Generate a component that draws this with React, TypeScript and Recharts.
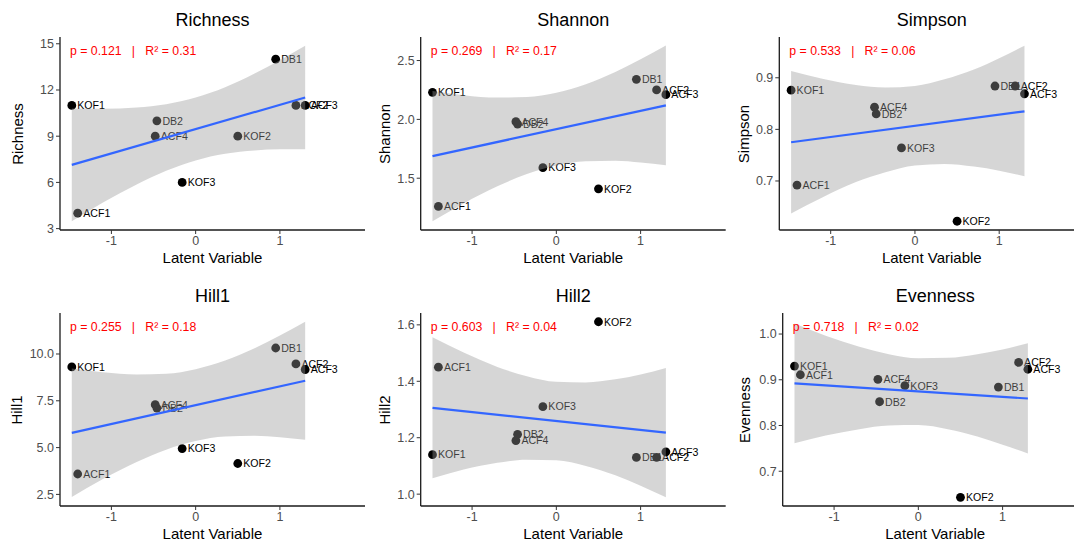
import React from "react";
import { ComposedChart, Scatter, Area, Line, XAxis, YAxis } from "recharts";

const FONT = '"Liberation Sans", Arial, Helvetica, sans-serif';

// samples and their latent variable score (x)
const samples = ["KOF1", "ACF1", "DB2", "ACF4", "KOF3", "KOF2", "DB1", "ACF2", "ACF3"];
const latent = [-1.47, -1.4, -0.46, -0.48, -0.16, 0.5, 0.95, 1.19, 1.3];
const xTicks = [-1, 0, 1];

const bandX = [-1.47, -1.1, -0.7, -0.35, 0, 0.35, 0.7, 1.0, 1.3];

const richness = [11, 4, 10, 9, 6, 9, 14, 11, 11];
const richnessLo = [3.48, 4.7, 5.87, 6.76, 7.43, 7.86, 8.07, 8.15, 8.15];
const richnessHi = [10.8, 10.78, 10.87, 11.08, 11.51, 12.18, 13.07, 13.93, 14.87];
const richnessFit = [7.14, 11.51];
const richnessTicks = [3, 6, 9, 12, 15];

const shannon = [2.23, 1.26, 1.96, 1.98, 1.59, 1.41, 2.34, 2.25, 2.21];
const shannonLo = [1.135, 1.286, 1.431, 1.536, 1.608, 1.644, 1.649, 1.634, 1.611];
const shannonHi = [2.241, 2.206, 2.185, 2.19, 2.226, 2.298, 2.403, 2.51, 2.627];
const shannonFit = [1.688, 2.119];
const shannonTicks = [1.5, 2.0, 2.5];

const simpson = [0.876, 0.692, 0.83, 0.843, 0.764, 0.622, 0.884, 0.884, 0.869];
const simpsonLo = [0.637, 0.668, 0.698, 0.717, 0.73, 0.733, 0.728, 0.72, 0.709];
const simpsonHi = [0.913, 0.898, 0.886, 0.881, 0.884, 0.897, 0.916, 0.938, 0.962];
const simpsonFit = [0.775, 0.835];
const simpsonTicks = [0.7, 0.8, 0.9];

const hill1 = [9.31, 3.59, 7.11, 7.29, 4.95, 4.15, 10.32, 9.47, 9.17];
const hill1Lo = [2.36, 3.32, 4.23, 4.89, 5.35, 5.59, 5.63, 5.55, 5.42];
const hill1Hi = [9.22, 9.02, 8.91, 8.95, 9.19, 9.65, 10.31, 10.99, 11.72];
const hill1Fit = [5.79, 8.57];
const hill1Ticks = [2.5, 5.0, 7.5, 10.0];

const hill2 = [1.14, 1.45, 1.212, 1.19, 1.31, 1.611, 1.13, 1.13, 1.15];
const hill2Lo = [1.056, 1.087, 1.111, 1.122, 1.12, 1.1, 1.067, 1.03, 0.989];
const hill2Hi = [1.556, 1.502, 1.451, 1.418, 1.398, 1.396, 1.407, 1.424, 1.447];
const hill2Fit = [1.306, 1.218];
const hill2Ticks = [1.0, 1.2, 1.4, 1.6];

const evenness = [0.93, 0.911, 0.852, 0.901, 0.887, 0.643, 0.884, 0.938, 0.923];
const evennessLo = [0.761, 0.778, 0.792, 0.8, 0.801, 0.792, 0.776, 0.758, 0.739];
const evennessHi = [1.023, 0.996, 0.972, 0.956, 0.947, 0.948, 0.956, 0.966, 0.98];
const evennessFit = [0.892, 0.859];
const evennessTicks = [0.7, 0.8, 0.9, 1.0];

const panels = [
  { title: "Richness", values: richness, lo: richnessLo, hi: richnessHi, fit: richnessFit, ticks: richnessTicks, domain: [2.91, 15.44], dec: 0, stat: "p = 0.121   |   R² = 0.31", col: 0, row: 0, plotLeft: 60, yLabelX: 17.5 },
  { title: "Shannon", values: shannon, lo: shannonLo, hi: shannonHi, fit: shannonFit, ticks: shannonTicks, domain: [1.06, 2.7], dec: 1, stat: "p = 0.269   |   R² = 0.17", col: 1, row: 0, plotLeft: 62.7, yLabelX: 26.7 },
  { title: "Simpson", values: simpson, lo: simpsonLo, hi: simpsonHi, fit: simpsonFit, ticks: simpsonTicks, domain: [0.605, 0.979], dec: 1, stat: "p = 0.533   |   R² = 0.06", col: 2, row: 0, plotLeft: 63.3, yLabelX: 28.3 },
  { title: "Hill1", values: hill1, lo: hill1Lo, hi: hill1Hi, fit: hill1Fit, ticks: hill1Ticks, domain: [1.88, 12.19], dec: 1, stat: "p = 0.255   |   R² = 0.18", col: 0, row: 1, plotLeft: 60, yLabelX: 16.7 },
  { title: "Hill2", values: hill2, lo: hill2Lo, hi: hill2Hi, fit: hill2Fit, ticks: hill2Ticks, domain: [0.958, 1.642], dec: 1, stat: "p = 0.603   |   R² = 0.04", col: 1, row: 1, plotLeft: 62.7, yLabelX: 26.7 },
  { title: "Evenness", values: evenness, lo: evennessLo, hi: evennessHi, fit: evennessFit, ticks: evennessTicks, domain: [0.624, 1.046], dec: 1, stat: "p = 0.718   |   R² = 0.02", col: 2, row: 1, plotLeft: 66.7, yLabelX: 29.3 },
];

const PLOT_W = 305;
const PLOT_TOP = 37;
const PLOT_BOTTOM = 230;

const SampleDot = (props: any) => {
  const { cx, cy, payload } = props;
  if (cx == null || cy == null) return null;
  return (
    <g>
      <circle cx={cx} cy={cy} r={4.4} fill="#000" />
      <text x={cx + 5.5} y={cy} dy="0.36em" fontSize={10.6} fill="#000" fontFamily={FONT}>
        {payload.name}
      </text>
    </g>
  );
};

function Panel({ p }: { p: any }) {
  const left = [0, 358, 716][p.col];
  const top = [0, 276][p.row];
  const points = samples.map((name, i) => ({ x: latent[i], y: p.values[i], name }));
  const rows = bandX.map((x, i) => ({
    x,
    band: [p.lo[i], p.hi[i]],
    fit: i === 0 ? p.fit[0] : i === bandX.length - 1 ? p.fit[1] : null,
  }));
  const chartW = p.plotLeft + PLOT_W + 4;

  return (
    <div style={{ position: "absolute", left, top, width: chartW, height: 272 }}>
      <ComposedChart width={chartW} height={272} data={rows} margin={{ top: PLOT_TOP, right: 4, bottom: 0, left: 0 }}>
        <XAxis
          type="number"
          dataKey="x"
          domain={[-1.61, 2.01]}
          ticks={xTicks}
          allowDataOverflow
          height={272 - PLOT_BOTTOM}
          axisLine={{ stroke: "#1a1a1a", strokeWidth: 1.3 }}
          tickLine={{ stroke: "#333" }}
          tickSize={4}
          tickMargin={2}
          tick={{ fill: "#4d4d4d", fontSize: 12.5, fontFamily: FONT }}
        />
        <YAxis
          type="number"
          domain={p.domain}
          ticks={p.ticks}
          allowDataOverflow
          width={p.plotLeft}
          axisLine={{ stroke: "#1a1a1a", strokeWidth: 1.3 }}
          tickLine={{ stroke: "#333" }}
          tickSize={4}
          tickMargin={2}
          tickFormatter={(v: number) => v.toFixed(p.dec)}
          tick={{ fill: "#4d4d4d", fontSize: 12.5, fontFamily: FONT }}
        />
        <Scatter data={points} dataKey="y" shape={SampleDot} isAnimationActive={false} zIndex={300} />
        <Area
          type="monotone"
          dataKey="band"
          stroke="none"
          fill="#999999"
          fillOpacity={0.4}
          activeDot={false}
          isAnimationActive={false}
          zIndex={400}
        />
        <Line
          type="linear"
          dataKey="fit"
          stroke="#3366ff"
          strokeWidth={2.2}
          dot={false}
          activeDot={false}
          connectNulls
          isAnimationActive={false}
          zIndex={450}
        />
      </ComposedChart>
      <div
        style={{
          position: "absolute",
          left: p.plotLeft,
          width: PLOT_W,
          top: 9,
          lineHeight: "22px",
          textAlign: "center",
          fontSize: 18,
          color: "#000",
          fontFamily: FONT,
        }}
      >
        {p.title}
      </div>
      <div
        style={{
          position: "absolute",
          left: p.plotLeft + 10,
          top: 43,
          lineHeight: "16px",
          fontSize: 12.3,
          color: "#ff0000",
          fontFamily: FONT,
          whiteSpace: "pre",
        }}
      >
        {p.stat}
      </div>
      <div
        style={{
          position: "absolute",
          left: p.yLabelX,
          top: (PLOT_TOP + PLOT_BOTTOM) / 2,
          transform: "translate(-50%, -50%) rotate(-90deg)",
          fontSize: 15,
          lineHeight: "18px",
          whiteSpace: "nowrap",
          color: "#000",
          fontFamily: FONT,
        }}
      >
        {p.title}
      </div>
      <div
        style={{
          position: "absolute",
          left: p.plotLeft,
          width: PLOT_W,
          top: 249,
          lineHeight: "18px",
          textAlign: "center",
          fontSize: 15,
          color: "#000",
          fontFamily: FONT,
        }}
      >
        Latent Variable
      </div>
    </div>
  );
}

export default function App() {
  return (
    <div
      style={{
        position: "absolute",
        left: 0,
        top: 0,
        width: 1074,
        height: 544,
        overflow: "hidden",
        background: "#fff",
      }}
    >
      {panels.map((p) => (
        <Panel key={p.title} p={p} />
      ))}
    </div>
  );
}
